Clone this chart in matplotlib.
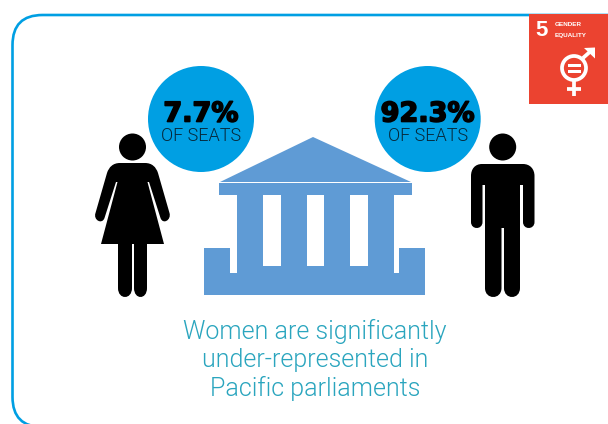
import matplotlib
matplotlib.use("Agg")
import matplotlib.pyplot as plt
import matplotlib.patheffects as pe
from matplotlib.patches import Circle, Rectangle, Polygon, FancyBboxPatch, PathPatch
from matplotlib.path import Path

# --- Content ---

share_labels = ["7.7%", "92.3%"]
share_unit = "OF SEATS"
caption_lines = ["Women are significantly", "under-represented in", "Pacific parliaments"]
goal_number = "5"
goal_lines = ["GENDER", "EQUALITY"]

# --- Colours ---

BORDER = "#009fe3"
BUBBLE = "#009fe3"
TEMPLE = "#5f9bd5"
RED = "#eb4330"
CAPTION = "#2aa5be"

fig = plt.figure(figsize=(6.08, 4.24), dpi=100)
ax = fig.add_axes([0, 0, 1, 1])
ax.set_xlim(0, 608)
ax.set_ylim(424, 0)
ax.axis("off")


def curve(points, color="black", z=3):
    """Closed outline; a point with 3 pairs is a cubic segment."""
    verts, codes = [points[0]], [Path.MOVETO]
    for p in points[1:]:
        if len(p) == 3:
            verts += list(p)
            codes += [Path.CURVE4] * 3
        else:
            verts.append(p)
            codes.append(Path.LINETO)
    verts.append(points[0])
    codes.append(Path.CLOSEPOLY)
    ax.add_patch(PathPatch(Path(verts, codes), fc=color, ec="none", zorder=z))


# --- Frame ---

ax.add_patch(FancyBboxPatch((12.5, 15), 700, 412, boxstyle="round,pad=0,rounding_size=30",
                            fc="white", ec=BORDER, lw=1.9, zorder=1))

# --- Goal 5 tile ---

ax.add_patch(Rectangle((529, 14), 79, 89.5, fc=RED, ec="none", zorder=2))
ax.text(541.5, 30, goal_number, color="white", fontsize=16, fontweight="bold", family="Liberation Sans",
        ha="center", va="center", zorder=3)
for label, y in zip(goal_lines, [25, 35.5]):
    ax.text(554.7, y, label, color="white", fontsize=4.6, fontweight="bold", family="Liberation Sans",
            ha="left", va="center", zorder=3)
ax.add_patch(Circle((574, 68), 12, fc="none", ec="white", lw=2.7, zorder=3))
ax.add_patch(Rectangle((567.5, 63.5), 13, 3, fc="white", ec="none", zorder=3))
ax.add_patch(Rectangle((567.5, 69.5), 13, 3, fc="white", ec="none", zorder=3))
ax.plot([574, 574], [81, 96], color="white", lw=2.7, zorder=3, solid_capstyle="butt")
ax.plot([567, 581], [89, 89], color="white", lw=2.7, zorder=3, solid_capstyle="butt")
ax.plot([583, 592], [58, 50], color="white", lw=2.7, zorder=3, solid_capstyle="butt")
ax.add_patch(Polygon([(584, 48), (595, 47.5), (595, 58.5)], fc="white", ec="none", zorder=3))

# --- Seat share bubbles ---

for cx, label in zip([201, 427.7], share_labels):
    ax.add_patch(Circle((cx, 119), 53, fc=BUBBLE, ec="none", zorder=2))
    ax.text(cx, 114.5, label, color="black", fontsize=19.5, fontweight="bold", family="DejaVu Sans",
            ha="center", va="center", zorder=4,
            path_effects=[pe.withStroke(linewidth=1.2, foreground="black")])
    ax.text(cx, 136, share_unit, color="#06283a", fontsize=13, fontweight=300, family="Roboto",
            ha="center", va="center", zorder=4)

# --- Parliament building ---

ax.add_patch(Polygon([(220, 182), (313, 137), (411, 182)], fc=TEMPLE, ec="none", zorder=2))
ax.add_patch(Rectangle((219, 183), 193, 12, fc=TEMPLE, ec="none", zorder=2))
ax.add_patch(Rectangle((237, 195), 157, 80, fc=TEMPLE, ec="none", zorder=2))
for x0, x1 in [(263, 281), (307, 324), (350, 368)]:
    ax.add_patch(Rectangle((x0, 195), x1 - x0, 71, fc="white", ec="none", zorder=3))
ax.add_patch(Polygon([(204, 248), (230, 248), (230, 273), (399, 273), (399, 248), (425, 248),
                      (425, 295), (204, 295)], fc=TEMPLE, ec="none", zorder=2))

# --- Woman ---

ax.add_patch(Circle((132.5, 147), 13.5, fc="black", ec="none", zorder=3))
curve([(120, 163), (145, 163),
       ((152, 163), (156, 167), (158, 173)),
       (169.5, 213),
       ((171.5, 220), (163, 225), (160.5, 218)),
       (149, 182), (147.5, 182), (164, 244), (147, 244), (147, 288),
       ((147, 300), (134, 300), (134, 288)),
       (134, 244), (132, 244), (132, 288),
       ((132, 300), (118, 300), (118, 288)),
       (118, 244), (101, 244), (117.5, 182), (116, 182), (104.5, 218),
       ((102, 225), (93, 220), (95.5, 213)),
       (107, 173),
       ((109, 167), (113, 163), (120, 163))])

# --- Man ---

ax.add_patch(Circle((502.7, 147), 13.5, fc="black", ec="none", zorder=3))
curve([(482, 164), (523, 164),
       ((530, 164), (534.5, 169), (534.5, 176)),
       (534.5, 222),
       ((534.5, 230), (523, 230), (523, 222)),
       (523, 185), (520, 185), (520, 288),
       ((520, 300), (504, 300), (504, 288)),
       (504, 228), (501.5, 228), (501.5, 288),
       ((501.5, 300), (485, 300), (485, 288)),
       (485, 185), (482.5, 185), (482.5, 222),
       ((482.5, 230), (471, 230), (471, 222)),
       (471, 176),
       ((471, 169), (475, 164), (482, 164))])

# --- Caption ---

for y, line in zip([331, 359.5, 388], caption_lines):
    ax.text(315, y, line, color=CAPTION, fontsize=18, fontweight=300, family="Roboto",
            ha="center", va="center", zorder=4)

fig.savefig("out.png", dpi=100)
